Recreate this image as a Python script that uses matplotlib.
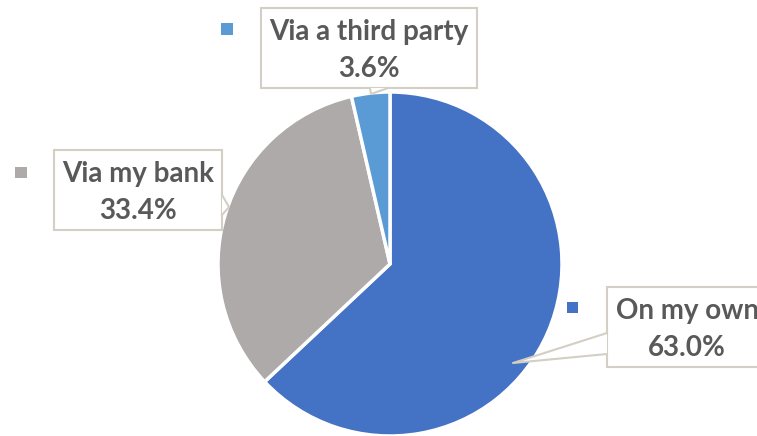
import matplotlib.pyplot as plt
from matplotlib.patches import Rectangle, Polygon

labels = ["On my own", "Via my bank", "Via a third party"]
shares = [63.0, 33.4, 3.6]
colors = ["#4472C4", "#AEAAAA", "#5B9BD5"]

W, H = 757, 436
fig = plt.figure(figsize=(W / 100, H / 100), dpi=100)
ax = fig.add_axes([0, 0, 1, 1])


def y(py):
    # work in pixel rows measured from the top
    return H - py


ax.pie(shares, colors=colors, startangle=90, counterclock=False,
       center=(390, y(264)), radius=172, frame=True,
       wedgeprops=dict(edgecolor="white", linewidth=2.5))
ax.set_xlim(0, W)
ax.set_ylim(0, H)
ax.set_aspect("equal")
ax.axis("off")

edge = "#D3CFC4"
txt = "#595959"
font = dict(family="Lato", weight="bold", fontsize=20, color=txt,
            ha="center", va="center")

# callout boxes: (x0, y0, x1, y1), text centre x, marker box, pointer (base1, base2, tip)
callouts = [
    (0, (607, 287, 770, 367), 687, (567, 302, 578, 313),
     [(607, 333), (607, 354), (513, 363)]),
    (1, (54, 150, 222, 230), 138, (15, 167, 27, 178),
     [(222, 195), (222, 215), (229, 207)]),
    (2, (261, 8, 477, 88), 369, (221, 23, 233, 35),
     [(370, 88), (388, 88), (371, 94)]),
]

for i, (x0, y0, x1, y1), cx, (mx0, my0, mx1, my1), ptr in callouts:
    ax.add_patch(Rectangle((x0, y(y1)), x1 - x0, y1 - y0, facecolor="white",
                           edgecolor=edge, linewidth=1.5, zorder=5))
    pts = [(px, y(py)) for px, py in ptr]
    ax.add_patch(Polygon(pts, closed=True, facecolor="white",
                         edgecolor="none", zorder=6))
    ax.plot([pts[0][0], pts[2][0], pts[1][0]], [pts[0][1], pts[2][1], pts[1][1]],
            color=edge, linewidth=1.5, zorder=6)
    ax.add_patch(Rectangle((mx0, y(my1)), mx1 - mx0, my1 - my0,
                           facecolor=colors[i], edgecolor="none", zorder=6))
    cy = (y0 + y1) / 2
    ax.text(cx, y(cy - 16), labels[i], zorder=7, **font)
    ax.text(cx, y(cy + 21), f"{shares[i]:.1f}%", zorder=7, **font)

fig.savefig("out.png", dpi=100)
